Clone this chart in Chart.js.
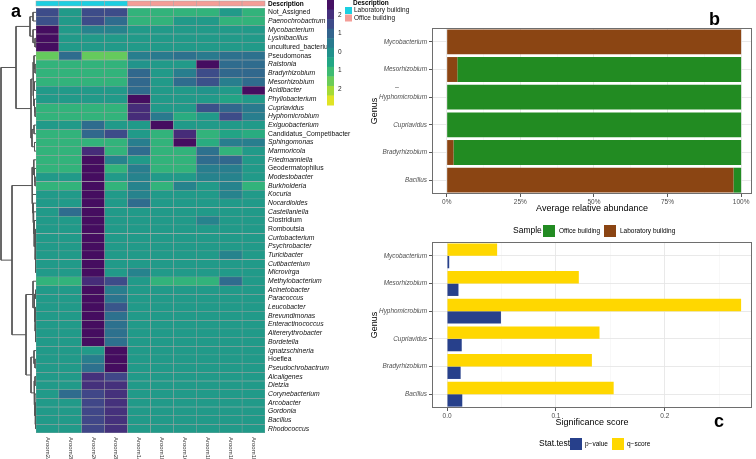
<!DOCTYPE html>
<html>
<head>
<meta charset="utf-8">
<script src="https://cdn.jsdelivr.net/npm/chart.js@4.4.1/dist/chart.umd.min.js"></script>
<style>
body { margin: 0; background: #fff; width: 756px; height: 459px; overflow: hidden; position: relative; font-family: "Liberation Sans", Arial, sans-serif; }
canvas { position: absolute; }
.t { position: absolute; white-space: nowrap; line-height: 1; color: #000; }
.sq { position: absolute; width: 12px; height: 12px; }
.lab { font-weight: bold; font-size: 18px; }
</style>
</head>
<body>
<canvas id="heat" width="420" height="459" style="left:0;top:0"></canvas>
<canvas id="tree" width="36" height="425" style="left:0;top:8px"></canvas>
<canvas id="abund" width="396" height="222" style="left:360px;top:0"></canvas>
<canvas id="signif" width="396" height="237" style="left:360px;top:222px"></canvas>

<div class="t lab" style="left:11px;top:2px">a</div>
<div class="t lab" style="left:709px;top:10px">b</div>
<div class="t lab" style="left:714px;top:412px">c</div>
<div class="t" style="left:395px;top:83px;font-size:7px;color:#4d4d4d">–</div>

<div class="t" style="left:513px;top:226px;font-size:8.5px">Sample</div>
<div class="sq" style="left:543px;top:225px;background:#228b22"></div>
<div class="t" style="left:559px;top:228px;font-size:6.5px">Office building</div>
<div class="sq" style="left:604px;top:225px;background:#8b4513"></div>
<div class="t" style="left:620px;top:228px;font-size:6.5px">Laboratory building</div>

<div class="t" style="left:539px;top:439px;font-size:8.5px">Stat.test</div>
<div class="sq" style="left:570px;top:438px;background:#27408b"></div>
<div class="t" style="left:585px;top:441px;font-size:6.5px">p−value</div>
<div class="sq" style="left:612px;top:438px;background:#ffd700"></div>
<div class="t" style="left:627px;top:441px;font-size:6.5px">q−score</div>

<script>
const FONT = '"Liberation Sans", Arial, Helvetica, sans-serif';

// ---- panel a data ----
const samples = ['Aroom2A', 'Aroom2B', 'Aroom2C', 'Aroom2D', 'Aroom1A', 'Aroom1B', 'Aroom1C', 'Aroom1D', 'Aroom1E', 'Aroom1F'];
const sampleGroup = ['Laboratory building', 'Laboratory building', 'Laboratory building', 'Laboratory building',
  'Office building', 'Office building', 'Office building', 'Office building', 'Office building', 'Office building'];
const groupColors = { 'Laboratory building': '#1dcfe0', 'Office building': '#f49d97' };

const genera = ['Not_Assigned', 'Paenochrobactrum', 'Mycobacterium', 'Lysinibacillus', 'uncultured_bacterium',
  'Pseudomonas', 'Ralstonia', 'Bradyrhizobium', 'Mesorhizobium', 'Acidibacter', 'Phyllobacterium', 'Cupriavidus',
  'Hyphomicrobium', 'Exiguobacterium', 'Candidatus_Competibacter', 'Sphingomonas', 'Marmoricola', 'Friedmanniella',
  'Geodermatophilus', 'Modestobacter', 'Burkholderia', 'Kocuria', 'Nocardioides', 'Castellaniella', 'Clostridium',
  'Romboutsia', 'Curtobacterium', 'Psychrobacter', 'Turicibacter', 'Cutibacterium', 'Microvirga', 'Methylobacterium',
  'Acinetobacter', 'Paracoccus', 'Leucobacter', 'Brevundimonas', 'Enteractinococcus', 'Altererythrobacter',
  'Bordetella', 'Ignatzschineria', 'Hoeflea', 'Pseudochrobactrum', 'Alcaligenes', 'Dietzia', 'Corynebacterium',
  'Arcobacter', 'Gordonia', 'Bacillus', 'Rhodococcus'];
const upright = ['Not_Assigned', 'uncultured_bacterium', 'Pseudomonas', 'Candidatus_Competibacter',
  'Geodermatophilus', 'Clostridium', 'Romboutsia', 'Hoeflea'];

// row z-scores (one row per genus, one value per sample)
const zscores = [
  [1.5, -0.25, 1.5, 1.5, -0.85, -0.85, -0.85, -0.85, -0.25, -0.85],
  [1.4, -0.25, 1.5, 0.8, -0.85, -0.85, -0.25, -0.25, -0.85, -0.85],
  [2.6, -0.25, 0.3, 0.3, -0.25, -0.25, -0.25, -0.25, -0.25, -0.25],
  [2.6, -0.25, -0.25, -0.25, -0.25, -0.25, -0.25, -0.25, -0.25, -0.25],
  [2.6, -0.25, -0.25, -0.25, -0.25, -0.25, -0.25, -0.25, -0.25, -0.25],
  [-1.5, 0.8, -1.5, -1.5, 0.4, 0.5, 0.7, 0.5, 0.7, 0.7],
  [-0.85, -0.85, -0.85, -0.85, -0.1, -0.25, -0.25, 2.6, 0.8, 0.8],
  [-0.85, -0.85, -0.85, -0.85, 0.9, -0.25, 0.4, 1.5, 0.9, 0.9],
  [-0.85, -0.85, -0.85, -0.85, 0.9, -0.25, 0.8, 1.4, 0.4, 0.8],
  [-0.25, -0.25, -0.25, -0.25, 0.8, -0.25, -0.25, -0.1, -0.25, 2.6],
  [-0.25, -0.25, -0.25, -0.25, 2.6, -0.25, -0.25, -0.25, -0.5, -0.25],
  [-0.85, -0.85, -0.85, -0.85, 2.1, -0.25, -0.25, 1.4, 0.9, 0.5],
  [-0.85, -0.85, -0.85, -0.85, 2.1, 0.5, -0.7, -0.25, 1.5, 0.4],
  [-0.25, -0.25, 0.8, -0.25, -0.25, 2.6, -0.25, -0.25, -0.25, -0.25],
  [-0.85, -0.85, 0.9, 1.5, -0.25, -0.85, 2.1, -0.85, -0.5, -0.7],
  [-0.85, -0.85, -0.85, -0.85, 0.4, -0.85, 2.6, -0.7, 0.4, 0.4],
  [-0.85, -0.85, 2.1, -0.85, 0.8, -0.85, -0.85, 0.7, -0.85, -0.25],
  [-0.85, -0.85, 2.6, 0.3, -0.25, -0.85, -0.85, 0.8, 0.9, -0.25],
  [-0.85, -0.85, 2.6, -0.85, 0.4, -0.85, -0.85, 0.4, 0.4, -0.25],
  [-0.25, -0.25, 2.6, -0.25, 0.3, -0.25, -0.25, 0.3, 0.3, -0.25],
  [-0.85, -0.85, 2.6, -0.85, 0.3, -0.85, 0.3, -0.25, 0.3, -0.85],
  [-0.25, -0.25, 2.6, -0.25, 0.3, -0.25, -0.25, -0.25, 0.3, -0.25],
  [-0.25, -0.25, 2.6, -0.25, 0.8, -0.25, -0.25, -0.25, -0.25, -0.25],
  [-0.25, 0.8, 2.6, -0.25, -0.25, -0.25, -0.25, -0.25, -0.25, -0.25],
  [-0.25, -0.25, 2.6, -0.25, -0.25, -0.25, -0.25, 0.3, -0.25, -0.25],
  [-0.25, -0.25, 2.6, -0.25, -0.25, -0.25, -0.25, -0.25, -0.25, -0.25],
  [-0.25, -0.25, 2.6, -0.25, -0.25, -0.25, -0.25, -0.25, -0.25, -0.25],
  [-0.25, -0.25, 2.6, -0.25, -0.25, -0.25, -0.25, -0.25, -0.25, -0.25],
  [-0.25, -0.25, 2.6, -0.25, -0.25, -0.25, -0.25, -0.25, 0.3, -0.25],
  [-0.25, -0.25, 2.6, -0.25, -0.25, -0.25, -0.25, -0.25, -0.25, -0.25],
  [-0.25, -0.25, 2.6, -0.25, 0.3, -0.25, -0.25, -0.25, -0.25, -0.25],
  [-0.85, -0.85, 2.1, 1.5, -0.25, -0.85, -0.85, -0.85, 0.8, -0.25],
  [-0.25, -0.25, 2.6, 0.4, -0.25, -0.25, -0.25, -0.25, -0.25, -0.25],
  [-0.25, -0.25, 2.6, 0.6, -0.25, -0.25, -0.25, -0.25, -0.25, -0.25],
  [-0.25, -0.25, 2.6, 1.3, -0.25, -0.25, -0.25, -0.25, -0.25, -0.25],
  [-0.25, -0.25, 2.6, 0.7, -0.25, -0.25, -0.25, -0.25, -0.25, -0.25],
  [-0.25, -0.25, 2.6, 0.7, -0.25, -0.25, -0.25, -0.25, -0.25, -0.25],
  [-0.25, -0.25, 2.6, 0.7, -0.25, -0.25, -0.25, -0.25, -0.25, -0.25],
  [-0.25, -0.25, 2.6, 0.7, -0.25, -0.25, -0.25, -0.25, -0.25, -0.25],
  [-0.25, -0.25, -0.25, 2.6, -0.25, -0.25, -0.25, -0.25, -0.25, -0.25],
  [-0.25, -0.25, 0.4, 2.6, -0.25, -0.25, -0.25, -0.25, -0.25, -0.25],
  [-0.25, -0.25, 0.7, 2.6, -0.25, -0.25, -0.25, -0.25, -0.25, -0.25],
  [-0.25, -0.25, 2.0, 1.6, -0.25, -0.25, -0.25, -0.25, -0.25, -0.25],
  [-0.25, -0.25, 2.0, 2.0, -0.25, -0.25, -0.25, -0.25, -0.25, -0.25],
  [-0.25, 0.8, 1.6, 2.0, -0.25, -0.25, -0.25, -0.25, -0.25, -0.25],
  [-0.25, -0.25, 1.6, 2.0, -0.25, -0.25, -0.25, -0.25, -0.25, -0.25],
  [-0.25, -0.25, 1.6, 2.0, -0.25, -0.25, -0.25, -0.25, -0.25, -0.25],
  [-0.25, -0.25, 1.6, 2.0, -0.25, -0.25, -0.25, -0.25, -0.25, -0.25],
  [-0.25, -0.25, 1.6, 2.0, -0.25, -0.25, -0.25, -0.25, -0.25, -0.25]
];

// row clustering: [left, right, merge height]; numbers are row indices
const dendrogram = [
  [[[0, 1, 3], [2, [3, 4, 1], 3], 6],
   [[[5, [6, 7, 1], 2], [[8, 9, 1.5], [10, [11, 12, 1], 1.5], 2.5], 3], [[13, 14, 2], [15, 16, 1.5], 4], 5], 20],
  [[[17, [18, [19, 20, 1], 1.5], 2.2],
    [21, [22, [23, [24, [[25, 26, 0.3], [[27, 28, 0.3], [29, 30, 0.3], 0.6], 1], 1.8], 2.4], 3], 3.5], 4],
   [[31, [[32, 33, 0.5], [[34, 35, 0.5], [36, [37, 38, 0.3], 0.6], 1], 1.5], 3],
    [[39, [40, 41, 1], 2], [[42, 43, 1], [44, [[45, 46, 0.4], [47, 48, 0.4], 0.8], 1.2], 2], 5], 10], 24],
  35];

const zMax = 2.8, zMin = -2.85;
const colorbarTicks = [2, 1, 0, -1, -2];
const colorbarLabels = ['2', '1', '0', '1', '2'];

// ---- panels b and c data ----
const sigGenera = ['Mycobacterium', 'Mesorhizobium', 'Hyphomicrobium', 'Cupriavidus', 'Bradyrhizobium', 'Bacillus'];
const labShare = [100, 3.6, 0, 0, 2.3, 97.4];
const officeShare = [0, 96.4, 100, 100, 97.7, 2.6];
const qScore = [0.046, 0.121, 0.270, 0.140, 0.133, 0.153];
const pValue = [0.002, 0.0105, 0.0495, 0.0135, 0.0125, 0.014];
const abundTicks = [0, 12.5, 25, 37.5, 50, 62.5, 75, 87.5, 100];
const signifTicks = [0, 0.05, 0.1, 0.15, 0.2, 0.25];

// viridis, t=0 dark purple .. t=1 yellow
const viridis = ['#440154', '#482475', '#414487', '#355f8d', '#2a788e', '#21918c', '#22a884', '#44bf70', '#7ad151', '#bddf26', '#fde725'];
function hex(c) { return [1, 3, 5].map(i => parseInt(c.slice(i, i + 2), 16)); }
function zColor(v) {
  let t = (zMax - v) / (zMax - zMin);
  t = Math.max(0, Math.min(1, t)) * (viridis.length - 1);
  const i = Math.min(Math.floor(t), viridis.length - 2), f = t - i;
  const a = hex(viridis[i]), b = hex(viridis[i + 1]);
  return 'rgb(' + a.map((x, k) => Math.round(x + (b[k] - x) * f)).join(',') + ')';
}

const heatDecor = {
  id: 'heatDecor',
  afterDraw(chart) {
    const ctx = chart.ctx, xs = chart.scales.x, area = chart.chartArea;
    const colW = (area.right - area.left) / samples.length;
    ctx.save();
    // top annotation
    samples.forEach((s, i) => {
      const cx = xs.getPixelForValue(i);
      ctx.fillStyle = groupColors[sampleGroup[i]];
      ctx.fillRect(cx - colW / 2, 1, colW, 5);
      ctx.strokeStyle = '#a3a3a3';
      ctx.lineWidth = 0.5;
      ctx.strokeRect(cx - colW / 2, 1, colW, 5);
    });
    ctx.fillStyle = '#000';
    ctx.font = 'bold 6.5px ' + FONT;
    ctx.textBaseline = 'middle';
    ctx.fillText('Description', area.right + 3, 4);
    // column labels
    ctx.font = '6px ' + FONT;
    ctx.fillStyle = '#333';
    samples.forEach((s, i) => {
      ctx.save();
      ctx.translate(xs.getPixelForValue(i), area.bottom + 4);
      ctx.rotate(Math.PI / 2);
      ctx.textAlign = 'left';
      ctx.fillText(s, 0, 0);
      ctx.restore();
    });
    // colour key
    const barX = 327, barW = 7, barTop = 0, barH = 105, steps = 11;
    for (let k = 0; k < steps; k++) {
      const v = zMax - (k + 0.5) * (zMax - zMin) / steps;
      ctx.fillStyle = zColor(v);
      ctx.fillRect(barX, barTop + k * barH / steps, barW, barH / steps + 0.5);
    }
    ctx.fillStyle = '#222';
    ctx.font = '6.5px ' + FONT;
    colorbarTicks.forEach((v, i) => {
      ctx.fillText(colorbarLabels[i], barX + barW + 4, barTop + (zMax - v) / (zMax - zMin) * barH);
    });
    // description key
    ctx.font = 'bold 6.5px ' + FONT;
    ctx.fillStyle = '#000';
    ctx.fillText('Description', 353, 3.5);
    ctx.font = '6.5px ' + FONT;
    Object.keys(groupColors).forEach((g, i) => {
      ctx.fillStyle = groupColors[g];
      ctx.fillRect(345, 7 + i * 7.5, 7, 7);
      ctx.fillStyle = '#111';
      ctx.fillText(g, 354, 10.5 + i * 7.5);
    });
    ctx.restore();
  }
};

new Chart(document.getElementById('heat'), {
  type: 'bar',
  data: {
    labels: samples,
    datasets: genera.map((g, i) => ({
      label: g,
      data: samples.map(() => 1),
      backgroundColor: zscores[i].map(zColor),
      borderColor: '#a3a3a3',
      borderWidth: 0.5,
      borderSkipped: false,
      barPercentage: 1,
      categoryPercentage: 1
    }))
  },
  options: {
    responsive: false,
    animation: false,
    layout: { padding: { left: 36, top: 8, bottom: 26, right: 0 } },
    plugins: { legend: { display: false }, tooltip: { enabled: false } },
    scales: {
      x: { stacked: true, display: false },
      y: {
        stacked: true, min: 0, max: genera.length, reverse: true, position: 'right',
        afterBuildTicks: s => { s.ticks = genera.map((g, i) => ({ value: i + 0.5 })); },
        afterFit: s => { s.width = 155; },
        ticks: {
          autoSkip: false, padding: 3, color: '#111',
          callback: (v, i) => genera[i],
          font: c => ({ family: FONT, size: 6.8, style: upright.includes(genera[c.index]) ? 'normal' : 'italic' })
        },
        grid: { display: false, drawTicks: false },
        border: { display: false }
      }
    }
  },
  plugins: [heatDecor]
});

// dendrogram as line segments
const treeSegs = [];
function placeNode(node) {
  if (typeof node === 'number') return { h: 0, y: node + 0.5 };
  const a = placeNode(node[0]), b = placeNode(node[1]), h = node[2];
  treeSegs.push({ x: a.h, y: a.y }, { x: h, y: a.y }, { x: h, y: b.y }, { x: b.h, y: b.y }, { x: NaN, y: NaN });
  return { h: h, y: (a.y + b.y) / 2 };
}
placeNode(dendrogram);

new Chart(document.getElementById('tree'), {
  type: 'scatter',
  data: {
    datasets: [{
      data: treeSegs, showLine: true, spanGaps: false, borderColor: '#555', borderWidth: 1,
      pointRadius: 0, clip: false
    }]
  },
  options: {
    responsive: false,
    animation: false,
    layout: { padding: 0 },
    plugins: { legend: { display: false }, tooltip: { enabled: false } },
    scales: {
      x: { type: 'linear', min: 0, max: 36, reverse: true, display: false },
      y: { type: 'linear', min: 0, max: genera.length, reverse: true, display: false }
    }
  }
});

// ---- panels b and c ----
const panelBorder = {
  id: 'panelBorder',
  afterDraw(chart) {
    const a = chart.chartArea, ctx = chart.ctx;
    ctx.save();
    ctx.strokeStyle = '#6e6e6e';
    ctx.lineWidth = 1;
    ctx.strokeRect(a.left + 0.5, a.top + 0.5, a.right - a.left - 1, a.bottom - a.top - 1);
    ctx.restore();
  }
};

function panelOptions(xMin, xMax, tickList, isMajor, fmt, xTitle, padTop, padBottom) {
  return {
    indexAxis: 'y',
    responsive: false,
    animation: false,
    layout: { padding: { top: padTop, bottom: padBottom, left: 0, right: 4 } },
    plugins: { legend: { display: false }, tooltip: { enabled: false } },
    scales: {
      x: {
        type: 'linear', min: xMin, max: xMax,
        afterBuildTicks: s => { s.ticks = tickList.map(v => ({ value: v })); },
        afterFit: s => { s.height = 20; },
        ticks: {
          autoSkip: false, maxRotation: 0, padding: 1.5, color: '#4d4d4d',
          font: { family: FONT, size: 6.5 },
          callback: v => isMajor(v) ? fmt(v) : ''
        },
        grid: {
          color: c => isMajor(c.tick.value) ? '#e6e6e6' : '#f3f3f3',
          lineWidth: c => isMajor(c.tick.value) ? 0.9 : 0.6,
          tickColor: c => isMajor(c.tick.value) ? '#444' : 'rgba(0,0,0,0)',
          tickLength: 3
        },
        border: { display: false },
        title: { display: true, text: xTitle, color: '#000', font: { family: FONT, size: 9 }, padding: { top: 0, bottom: 0 } }
      },
      y: {
        afterFit: s => { s.width = 72; },
        ticks: { color: '#4d4d4d', padding: 2, font: { family: FONT, size: 6.4, style: 'italic' } },
        grid: { color: '#e6e6e6', lineWidth: 0.9, offset: false, tickLength: 3, tickColor: '#444' },
        border: { display: false },
        title: { display: true, text: 'Genus', color: '#000', font: { family: FONT, size: 9 }, padding: { top: 9, bottom: 0 } }
      }
    }
  };
}

const bOpts = panelOptions(-5, 103.7, abundTicks, v => v % 25 === 0, v => v + '%', 'Average relative abundance', 28, 8);
bOpts.scales.x.stacked = true;
bOpts.scales.y.stacked = true;
new Chart(document.getElementById('abund'), {
  type: 'bar',
  data: {
    labels: sigGenera,
    datasets: [
      { label: 'Laboratory building', data: labShare, backgroundColor: '#8b4513', barPercentage: 1, categoryPercentage: 0.9 },
      { label: 'Office building', data: officeShare, backgroundColor: '#228b22', barPercentage: 1, categoryPercentage: 0.9 }
    ]
  },
  options: bOpts,
  plugins: [panelBorder]
});

const cOpts = panelOptions(-0.0138, 0.28, signifTicks, v => Math.abs(v * 10 - Math.round(v * 10)) < 1e-6, v => v.toFixed(1), 'Significance score', 20, 31);
new Chart(document.getElementById('signif'), {
  type: 'bar',
  data: {
    labels: sigGenera,
    datasets: [
      { label: 'q-score', data: qScore, backgroundColor: '#ffd700', barPercentage: 1, categoryPercentage: 0.9 },
      { label: 'p-value', data: pValue, backgroundColor: '#27408b', barPercentage: 1, categoryPercentage: 0.9 }
    ]
  },
  options: cOpts,
  plugins: [panelBorder]
});
</script>
</body>
</html>
